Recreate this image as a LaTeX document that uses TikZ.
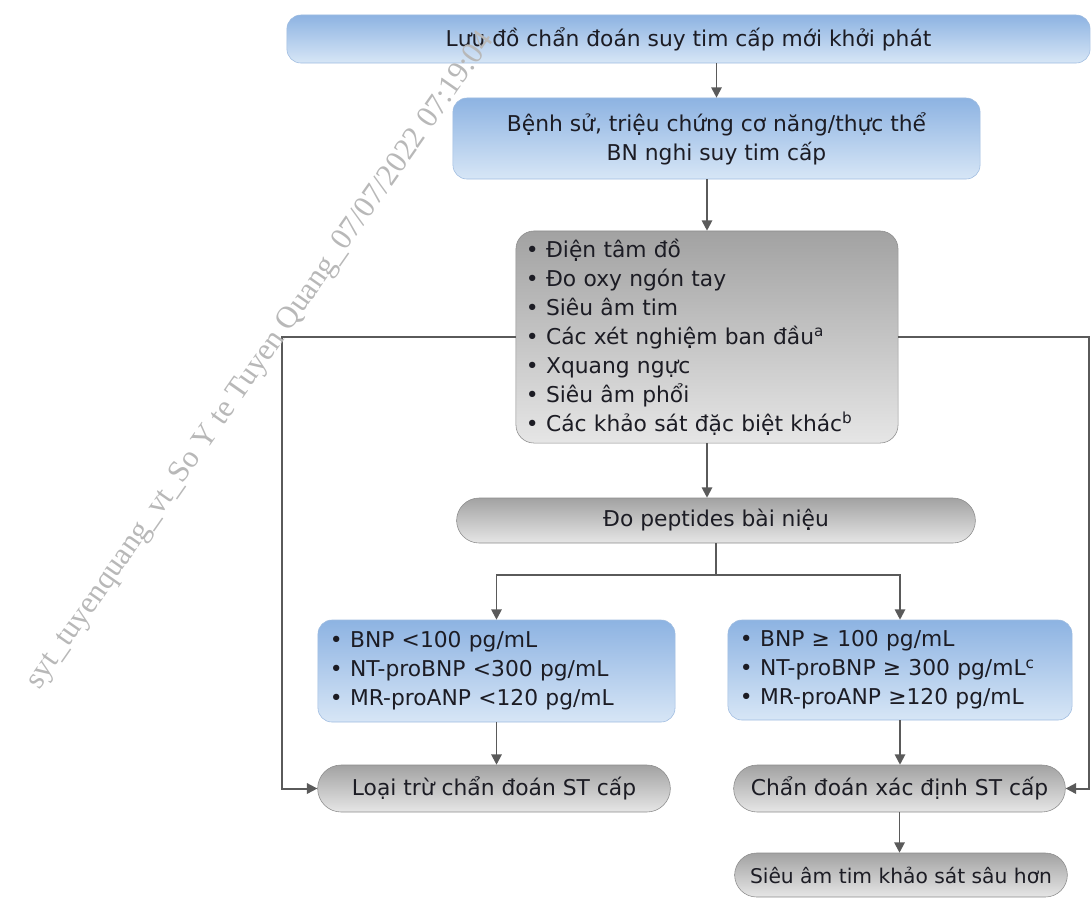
\documentclass[tikz,border=0pt]{standalone}
\usepackage{fontspec}
\setmainfont{DejaVu Sans}
\newfontfamily\wmfont{Liberation Serif}
\usetikzlibrary{arrows.meta, positioning, shapes.misc}
\definecolor{mBlueTop}{HTML}{8DB3E2}
\definecolor{mBlueBot}{HTML}{D7E6F6}
\definecolor{mBlueLine}{HTML}{9FBCE0}
\definecolor{mGrayTop}{HTML}{A2A2A2}
\definecolor{mGrayBot}{HTML}{E6E6E6}
\definecolor{mGrayLine}{HTML}{8C8C8C}
\definecolor{mArrow}{HTML}{5A5A5A}
\definecolor{mText}{HTML}{1C1C24}
\tikzset{
  bluebox/.style={draw=mBlueLine, rounded corners=0.35cm, top color=mBlueTop,
                  bottom color=mBlueBot, text=mText, inner ysep=0pt,
                  font=\fontsize{15.5}{20.6}\selectfont},
  graybox/.style={draw=mGrayLine, rounded corners=0.45cm, top color=mGrayTop,
                  bottom color=mGrayBot, text=mText, inner ysep=0pt,
                  font=\fontsize{15.5}{20.6}\selectfont},
  graypill/.style={graybox, rounded rectangle, rounded corners=0pt},
  flowarr/.style={mArrow, line width=1.4pt,
                  -{Triangle[length=0.26cm, width=0.26cm]}},
}

\begin{document}
\begin{tikzpicture}[x=0.025cm, y=-0.025cm]
    \useasboundingbox (0,0) rectangle (1091,897);
    \node[bluebox, minimum width=20.075cm, minimum height=1.2cm] (title) at (688.5,39)
      {Lưu đồ chẩn đoán suy tim cấp mới khởi phát};
    \node[bluebox, minimum width=13.175cm, minimum height=2.025cm, align=center] (hist) at (716.5,138.5)
      {Bệnh sử, triệu chứng cơ năng/thực thể\\BN nghi suy tim cấp};
    \node[graybox, text width=9.05cm, inner xsep=0.25cm, minimum height=5.3cm, align=left] (tests) at (707,337)
      {• Điện tâm đồ\\• Đo oxy ngón tay\\• Siêu âm tim\\• Các xét nghiệm ban đầu\textsuperscript{a}\\
       • Xquang ngực\\• Siêu âm phổi\\• Các khảo sát đặc biệt khác\textsuperscript{b}};
    \node[graypill, minimum width=13.2cm, minimum height=1.125cm] (pept) at (716,520.5)
      {Đo peptides bài niệu};
    \node[bluebox, text width=8.325cm, inner xsep=0.3cm, minimum height=2.55cm, align=left] (low) at (496.5,671)
      {• BNP <100 pg/mL\\• NT-proBNP <300 pg/mL\\• MR-proANP <120 pg/mL};
    \node[bluebox, text width=8.0cm, inner xsep=0.3cm, minimum height=2.5cm, align=left] (high) at (900,670)
      {• BNP ≥ 100 pg/mL\\• NT-proBNP ≥ 300 pg/mL\textsuperscript{c}\\• MR-proANP ≥120 pg/mL};
    \node[graypill, minimum width=9.05cm, minimum height=1.175cm] (rule) at (494,788.5)
      {Loại trừ chẩn đoán ST cấp};
    \node[graypill, minimum width=8.525cm, minimum height=1.175cm] (confirm) at (899.5,788.5)
      {Chẩn đoán xác định ST cấp};
    \node[graypill, minimum width=8.55cm, minimum height=1.1cm, font=\fontsize{14.4}{18}\selectfont] (echo) at (901,875)
      {Siêu âm tim khảo sát sâu hơn};
    \draw[flowarr] (title.south -| hist.north) -- (hist.north);
    \draw[flowarr] (hist.south -| tests.north) -- (tests.north);
    \draw[flowarr] (tests.south) -- (tests.south |- pept.north);
    \draw[flowarr] (pept.south) -- ++(0,32) -| (low.north);
    \draw[flowarr] (pept.south) -- ++(0,32) -| (high.north);
    \draw[flowarr] (low.south) -- (low.south |- rule.north);
    \draw[flowarr] (high.south) -- (high.south |- confirm.north);
    \draw[flowarr] (confirm.south) -- (confirm.south |- echo.north);
    \draw[flowarr] (tests.west) -- ++(-234,0) |- (rule.west);
    \draw[flowarr] (tests.east) -- ++(191,0) |- (confirm.east);
    \node[rotate=55, text=black!28, font=\wmfont\fontsize{22}{22}\selectfont] (mark) at (261,361)
      {syt\_tuyenquang\_vt\_So Y te Tuyen Quang\_07/07/2022 07:19:04};
\end{tikzpicture}
\end{document}
